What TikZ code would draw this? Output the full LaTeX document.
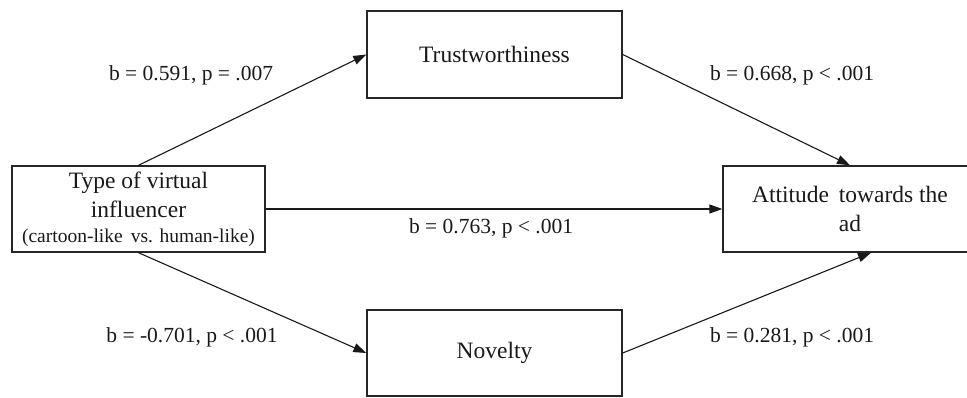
\documentclass[tikz,border=0pt]{standalone}
\usepackage{fontspec}
\setmainfont{Liberation Serif}
\usetikzlibrary{arrows.meta}
\tikzset{
  box/.style={draw=black!85, line width=1.4pt, rectangle, inner sep=0pt,
    align=center, font=\fontsize{23.5}{28}\selectfont, text=black!90},
  conn/.style={draw=black!90, line width=1.1pt, -{Triangle[length=13pt,width=9pt]}},
  lbl/.style={font=\fontsize{21.5}{26}\selectfont, text=black!90, inner sep=0pt},
}
\begin{document}
\begin{tikzpicture}[x=1pt,y=-1pt]
\useasboundingbox (0,0) rectangle (967,397);
\clip (0,0) rectangle (967,397);
\node[box, minimum width=253pt, minimum height=86pt] (left) at (138.5,209)
  {Type of virtual\\[1pt] influencer\\[-3pt] {\fontsize{19.5}{22}\selectfont (cartoon-like\, vs. human-like)}};
\node[box, minimum width=255pt, minimum height=87pt] (trust) at (494.5,54.5) {Trustworthiness};
\node[box, minimum width=255pt, minimum height=86pt] (nov) at (494.5,353) {Novelty};
\node[box, minimum width=254pt, minimum height=86pt] (att) at (850,209) {Attitude\, towards the\\[1pt] ad};
\draw[conn] (left.north) -- (trust.west);
\draw[conn] (trust.east) -- (att.north);
\draw[conn] (left.east) -- (att.west);
\draw[conn] (left.south) -- (nov.west);
\draw[conn] (nov.east) -- ([xshift=21pt]att.south);
\node[lbl] (l1) at (191,75) {b = 0.591, p = .007};
\node[lbl] (l2) at (792,75) {b = 0.668, p < .001};
\node[lbl] (l3) at (491,228) {b = 0.763, p < .001};
\node[lbl] (l4) at (192,337) {b = -0.701, p < .001};
\node[lbl] (l5) at (792,337) {b = 0.281, p < .001};
\end{tikzpicture}
\end{document}
